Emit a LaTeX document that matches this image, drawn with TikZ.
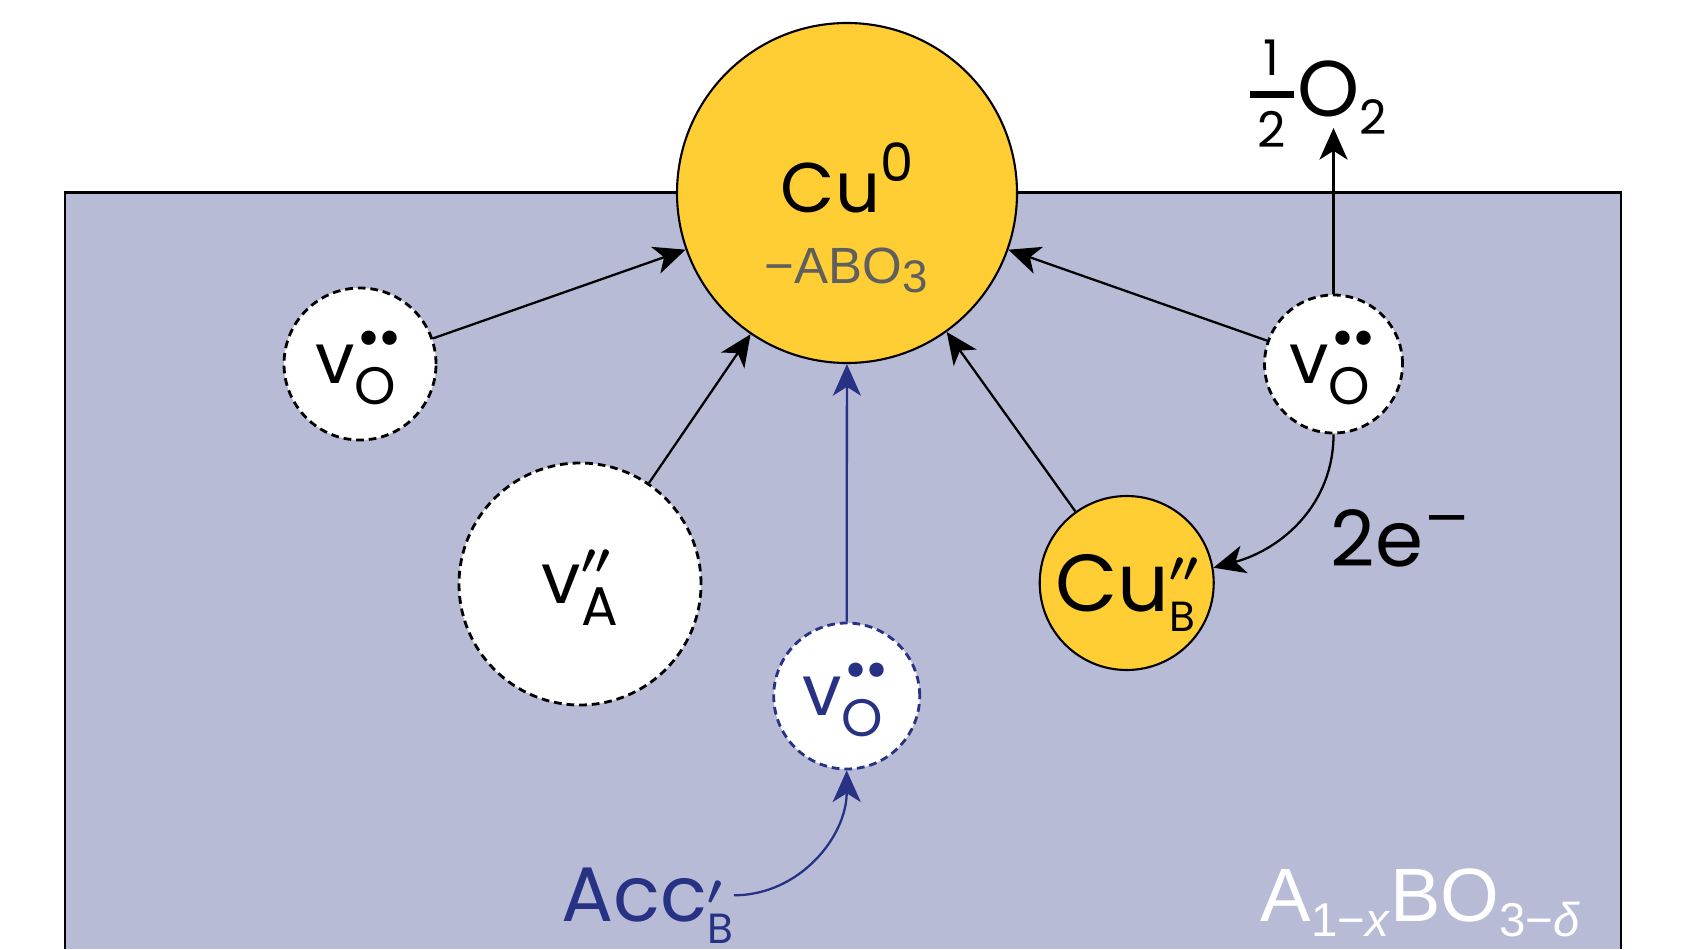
\documentclass[tikz,border=0pt]{standalone}
\usepackage{fontspec}
\setmainfont{Poppins}
\newfontfamily\helv{Liberation Sans}
\newfontfamily\dejavu{DejaVu Sans}
\usepackage{xcolor}
\usepackage{tikz}
\usetikzlibrary{arrows.meta,positioning,calc}
\definecolor{bulkgray}{RGB}{184,187,214}
\definecolor{cugold}{RGB}{255,206,52}
\definecolor{accblue}{RGB}{40,50,132}
\definecolor{labgray}{RGB}{95,95,95}
% stacked sub/superscripts for Kroger-Vink labels
\newcommand{\stk}[2]{\ooalign{#1\cr#2\cr}}
\newcommand{\lowr}[3]{\raisebox{-#2}{\fontsize{#1}{#1}\selectfont #3}}
\newcommand{\uppr}[3]{\raisebox{#2}{\fontsize{#1}{#1}\selectfont #3}}
\newcommand{\dotpair}{{\dejavu •\kern-2.4pt•}}
\newcommand{\dprime}{\boldmath$\prime\prime$}
\newcommand{\half}{{\fontsize{14pt}{14pt}\selectfont\ooalign{\hfil\raisebox{11.8pt}{1}\hfil\cr\raisebox{5.2pt}{\rule{12.5pt}{2pt}}\cr\hfil\raisebox{-8.9pt}{2}\hfil\cr}}}
\tikzset{
  vac/.style={circle, draw, dashed, dash pattern=on 2.2pt off 1.4pt, fill=white, line width=0.8pt, inner sep=0pt},
  cunode/.style={circle, draw, fill=cugold, line width=0.6pt, inner sep=0pt},
  flow/.style={-{Stealth[length=9pt,width=8pt,inset=2.5pt]}, line width=0.65pt},
  lbl/.style={anchor=base west, inner sep=0pt}
}

\begin{document}
\begin{tikzpicture}[font=\fontsize{20pt}{24pt}\selectfont, >=Stealth]
  \useasboundingbox (0,0) rectangle (16.87,9.49);
  % perovskite host
  \fill[bulkgray] (0.65,0) rectangle (16.21,7.567);
  \draw[line width=0.7pt] (0.65,0) |- (16.21,7.567) -- (16.21,0);
  \node[lbl, text=white, font=\helv\fontsize{21.5pt}{26pt}\selectfont] (host) at (12.60,0.273)
    {A\lowr{13.5pt}{4.3pt}{1−\textit{x}}BO\lowr{13.5pt}{4.3pt}{3−\textit{δ}}};

  % exsolved particle
  \node[cunode, minimum size=3.40cm] (cu) at (8.47,7.56) {};
  \node[anchor=base] (cutxt) at (8.47,7.37) {Cu\uppr{15pt}{8.8pt}{0}};
  \node[anchor=base, text=labgray, font=\helv\fontsize{14.5pt}{17pt}\selectfont] (cusub) at (8.46,6.66)
    {−ABO\lowr{13pt}{2.8pt}{3}};

  % defects
  \node[vac, minimum size=1.52cm] (vl) at (3.60,5.85) {v\stk{\lowr{15pt}{6pt}{O}}{\uppr{14pt}{7.6pt}{\dotpair}}};
  \node[vac, minimum size=1.38cm] (vr) at (13.335,5.85) {v\stk{\lowr{15pt}{6pt}{O}}{\uppr{14pt}{7.6pt}{\dotpair}}};
  \node[vac, minimum size=2.42cm] (va) at (5.80,3.65) {v\stk{\lowr{15.5pt}{6.2pt}{A}}{\uppr{13pt}{8.4pt}{\dprime}}};
  \node[vac, draw=accblue, text=accblue, minimum size=1.46cm] (vb) at (8.467,2.53)
    {v\stk{\lowr{15pt}{6pt}{O}}{\uppr{14pt}{7.6pt}{\dotpair}}};
  \node[cunode, minimum size=1.74cm, font=\fontsize{23pt}{27pt}\selectfont] (cub) at (11.267,3.66)
    {Cu\stk{\lowr{12pt}{5.7pt}{B}}{\uppr{13pt}{8.4pt}{\dprime}}};

  % gas and electrons
  \node[lbl] (o2) at (12.49,8.323) {\half\kern1pt{\fontsize{22.5pt}{26pt}\selectfont O}\lowr{13.5pt}{5.2pt}{2}};
  \coordinate (o2tip) at (13.335,8.21);
  \node[lbl, font=\fontsize{22pt}{26pt}\selectfont] (elec) at (13.30,3.823) {2e\uppr{16pt}{8.8pt}{\dejavu −}};
  \node[lbl, text=accblue, font=\fontsize{22pt}{26pt}\selectfont] (acc) at (5.607,0.273)
    {Acc\stk{\lowr{12pt}{6.1pt}{B}}{\uppr{12pt}{5pt}{\boldmath$\prime$}}};

  % migration towards the particle
  \draw[flow] (vl) -- (cu);
  \draw[flow] (va) -- (cu);
  \draw[flow] (cub) -- (cu);
  \draw[flow] (vr) -- (cu);
  \draw[flow, accblue] (vb) -- (cu);
  \draw[flow] (vr) -- (o2tip);
  \draw[flow] (vr.south) to[out=-90, in=15] (cub.10);
  \draw[flow, accblue] (acc.east) to[out=0, in=-90] (vb.south);
\end{tikzpicture}
\end{document}
